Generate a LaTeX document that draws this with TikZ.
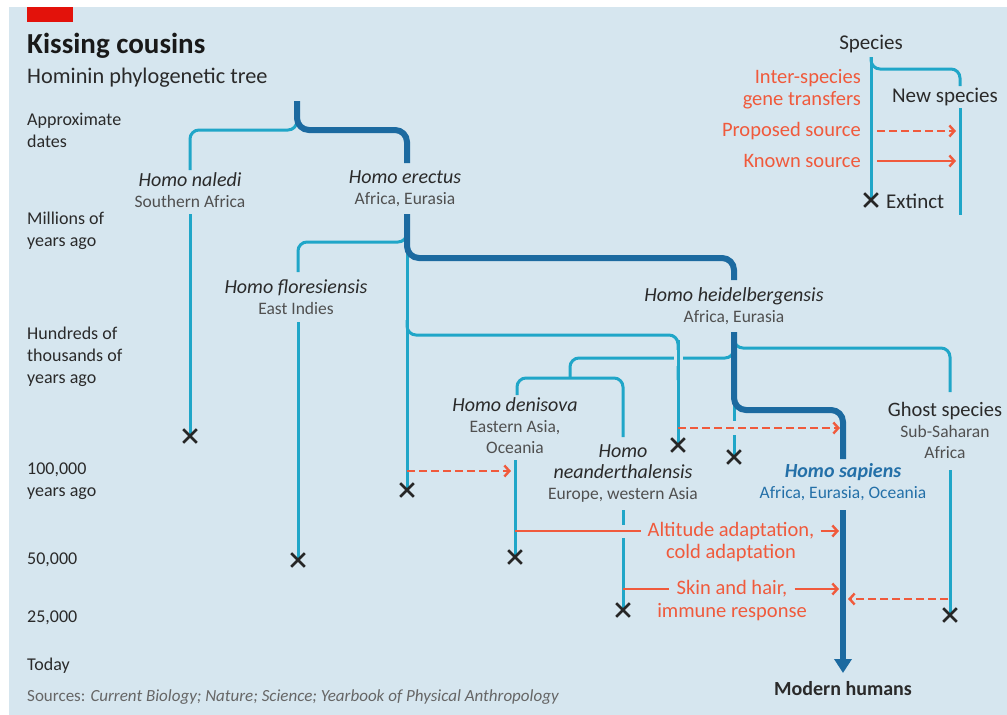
\documentclass[tikz,border=0pt]{standalone}
\usepackage{fontspec}
\setmainfont{Carlito}
\usetikzlibrary{shapes.misc,arrows.meta}
\definecolor{bgc}{HTML}{D6E6EF}
\definecolor{econred}{HTML}{E3120B}
\definecolor{darkb}{HTML}{1C6AA0}
\definecolor{cyanl}{HTML}{20A6C8}
\definecolor{redc}{HTML}{F05A3C}
\definecolor{txt}{HTML}{2A2A2A}
\definecolor{reg}{HTML}{505050}
\definecolor{src}{HTML}{666666}
\definecolor{sapb}{HTML}{2470A8}
\newcommand{\spn}[1]{{\fontsize{20}{21}\selectfont\itshape #1}}
\tikzset{
  thinl/.style={draw=cyanl, line width=3pt, rounded corners=9pt},
  thickl/.style={draw=darkb, line width=6pt, rounded corners=12pt},
  xm/.style={cross out, draw=black!85, line width=2.6pt, minimum size=11pt, inner sep=0pt},
  gene/.style={draw=redc, line width=2.6pt, -{Straight Barb[length=5pt,width=11pt,line width=2.4pt]}},
  geneline/.style={draw=redc, line width=2.6pt},
  prop/.style={gene, dash pattern=on 8pt off 4pt},
  halo/.style={draw=bgc, line width=11pt},
  sp/.style={align=center, font=\fontsize{17.5}{21}\selectfont, text=txt, inner sep=1pt},
  axis/.style={anchor=west, align=left, font=\fontsize{18}{22}\selectfont, text=txt, inner sep=0pt},
  redt/.style={font=\fontsize{20.5}{22}\selectfont, text=redc, inner sep=2pt},
  legt/.style={font=\fontsize{21}{22}\selectfont, text=txt, inner sep=1pt},
}
\begin{document}
\begin{tikzpicture}[x=1pt,y=-1pt]
\useasboundingbox (0,0) rectangle (1007,715);
\fill[white] (0,0) rectangle (1007,715);
\fill[bgc] (9,7) rectangle (1007,715);
\fill[econred] (27,7) rectangle (73,22);

% titles
\node[anchor=base west, inner sep=0, font=\fontsize{29}{32}\selectfont\bfseries, text=black!90] (title) at (27,53) {Kissing cousins};
\node[anchor=base west, inner sep=0, font=\fontsize{22.3}{25}\selectfont, text=txt] (subtitle) at (27,83) {Hominin phylogenetic tree};

% axis labels
\node[axis] (a1) at (27,130) {Approximate\\dates};
\node[axis] (a2) at (27,231) {Millions of\\years ago};
\node[axis] (a3) at (27,357) {Hundreds of\\thousands of\\years ago};
\node[axis] (a4) at (27,481) {100,000\\years ago};
\node[axis] (a5) at (27,560) {50,000};
\node[axis] (a6) at (27,618) {25,000};
\node[axis] (a7) at (27,666) {Today};
\node[axis, text=src, font=\fontsize{17}{20}\selectfont] (srcs) at (27,697) {Sources: \textit{Current Biology; Nature; Science; Yearbook of Physical Anthropology}};

% species labels
\node[sp] (naledi) at (190,190) {\spn{Homo naledi}\\{\color{reg}Southern Africa}};
\node[sp] (erectus) at (405,189) {\spn{Homo erectus}\\{\color{reg}Africa, Eurasia}};
\node[sp] (flores) at (296,297) {\spn{Homo floresiensis}\\{\color{reg}East Indies}};
\node[sp] (heidel) at (734,306) {\spn{Homo heidelbergensis}\\{\color{reg}Africa, Eurasia}};
\node[sp] (deni) at (515,426) {\spn{Homo denisova}\\{\color{reg}Eastern Asia,}\\{\color{reg}Oceania}};
\node[sp] (nean) at (623,473) {\spn{Homo}\\\spn{neanderthalensis}\\{\color{reg}Europe, western Asia}};
\node[sp, text=sapb] (sapiens) at (843,482) {\spn{\bfseries Homo sapiens}\\Africa, Eurasia, Oceania};
\node[sp] (ghost) at (945,430) {{\fontsize{20.5}{21}\selectfont Ghost species}\\{\color{reg}Sub-Saharan}\\{\color{reg}Africa}};
\node[sp, font=\fontsize{20}{21}\selectfont\bfseries] (modern) at (843,689) {Modern humans};

% coordinates
\coordinate (root) at (297,101);
\coordinate (rootj) at (297,130);
\coordinate (erecj) at (407,258);
\coordinate (heidj) at (734,410);

% crosses positions
\coordinate (cnal) at (190,436);
\coordinate (cere) at (407,490);
\coordinate (cflo) at (298,560);
\coordinate (cunk) at (678,445);
\coordinate (chei) at (734,457);
\coordinate (cden) at (515,557);
\coordinate (cnea) at (623,610);
\coordinate (cgho) at (950,615);

% root split
\draw[thinl] (297,112) -- (rootj) -- (190,130) -- (190,170);
\draw[thickl] (root) -- (rootj) -- (407,130) -- (407,163);
% naledi
\draw[thinl] (190,214) -- (cnal);
% erectus
\draw[thinl] (407,225) -- (407,242) -- (298,242) -- (298,272);
\draw[thinl] (407,250) -- (cere);
\draw[thickl] (407,214) -- (erecj) -- (734,258) -- (734,280);
\draw[thinl] (407,320) -- (407,335) -- (678,335) -- (678,380);
% floresiensis
\draw[thinl] (298,322) -- (cflo);
% heidelbergensis branches
\draw[thinl] (734,335) -- (734,358) -- (570,358) -- (570,378);
\draw[thinl] (517,395) -- (517,378) -- (623,378) -- (623,437);
\draw[thinl] (734,335) -- (734,348) -- (950,348) -- (950,392);
\draw[halo, line width=9pt] (678,350) -- (678,366);
\draw[thinl] (678,340) -- (cunk);
\draw[thinl] (734,400) -- (chei);
\draw[thickl] (734,332) -- (heidj) -- (843,410) -- (843,459);
% sapiens
\draw[draw=darkb, line width=6pt, -{Triangle[length=14pt,width=17pt]}] (843,510) -- (843,673);
% denisova, neanderthal, ghost
\draw[thinl] (515,460) -- (cden);
\draw[thinl] (623,510) -- (cnea);
\draw[thinl] (950,470) -- (cgho);

% gene transfers
\draw[halo, line width=9pt] (734,421) -- (734,435);
\draw[prop] (678,428) -- (840,428);
\draw[prop] (407,471) -- (511,471);
\node[redt, inner xsep=6pt] (alt1) at (731,531) {Altitude adaptation,};
\node[redt] (alt2) at (731,553) {cold adaptation};
\node[redt, inner xsep=7pt] (skin1) at (732,589) {Skin and hair,};
\node[redt] (skin2) at (732,612) {immune response};
\draw[halo, line width=13pt] (617,531) -- (629,531);
\draw[geneline] (515,531) -- (alt1.west);
\draw[gene] (alt1.east) -- (839,531);
\draw[geneline] (623,589) -- (skin1.west);
\draw[gene] (skin1.east) -- (839,589);
\draw[prop] (948,599) -- (848,599);

% crosses
\foreach \c in {cnal,cere,cflo,cunk,chei,cden,cnea,cgho}
  \node[xm] at (\c) {};

% legend
\node[legt] (lspec) at (871,44) {Species};
\node[legt] (lnew) at (945,97) {New species};
\coordinate (lx) at (871,200);
\draw[thinl] (871,57) -- (871,69) -- (960,69) -- (960,86);
\draw[thinl] (871,57) -- (lx);
\draw[thinl] (960,108) -- (960,215);
\node[redt, anchor=east, align=right] (lgene) at (863,89) {Inter-species\\gene transfers};
\node[redt, anchor=east] (lprop) at (863,131) {Proposed source};
\node[redt, anchor=east] (lknown) at (863,161) {Known source};
\draw[prop] (877,131) -- (956,131);
\draw[gene] (877,161) -- (956,161);
\node[xm] (lxm) at (lx) {};
\node[legt, anchor=west] (lext) at (885,201) {Extinct};
\end{tikzpicture}
\end{document}
